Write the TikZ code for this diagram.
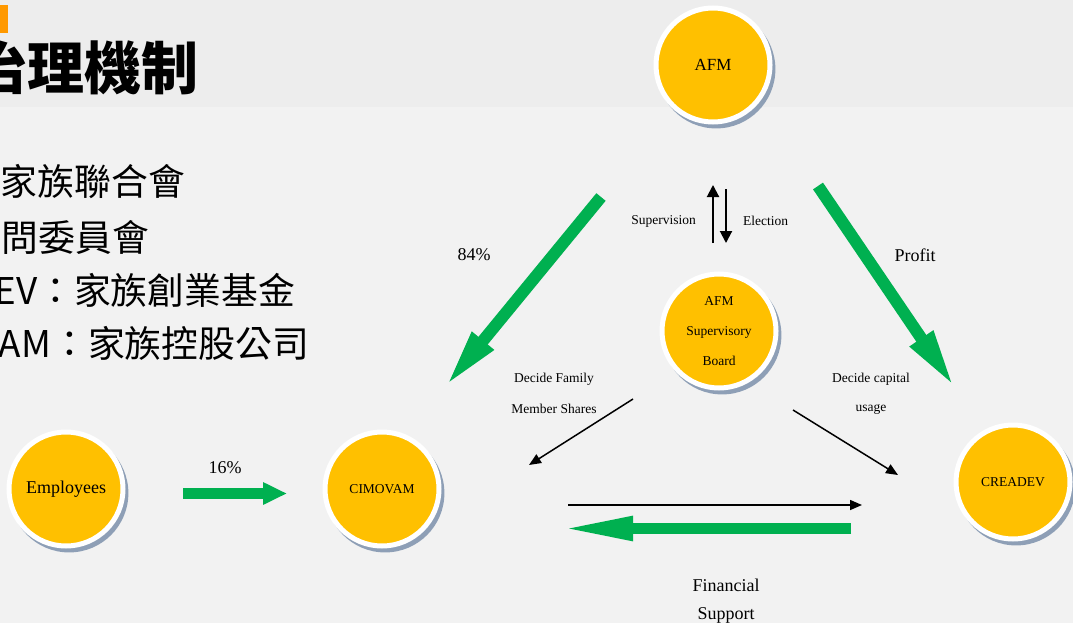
\documentclass[tikz,border=0pt]{standalone}
\usepackage{fontspec}
\setmainfont{Liberation Serif}
\newfontfamily\cjk{Noto Sans CJK TC}
\usepackage{xcolor}
\usetikzlibrary{shapes,arrows.meta,positioning,shadows}

\definecolor{slidegray}{HTML}{F2F2F2}
\definecolor{bandgray}{HTML}{EDEDED}
\definecolor{accent}{HTML}{FF9900}
\definecolor{gold}{HTML}{FFC000}
\definecolor{fatgreen}{HTML}{00B050}
\definecolor{rimblue}{HTML}{8497B0}

\tikzset{
  entity/.style={circle, fill=gold, draw=white, line width=5pt, minimum size=114pt, inner sep=0pt, text centered,
    drop shadow={shadow xshift=3pt, shadow yshift=-4pt, shadow scale=1.04, fill=rimblue, opacity=0.9}},
  pointer/.style={line width=1.5pt, -{Triangle[length=12pt,width=10pt]}},
  fat/.style 2 args={line width=12pt, draw=fatgreen, -{Triangle[length=#1,width=#2]}},
  lbl/.style={font=\fontsize{13.5}{16}\selectfont, inner sep=0pt},
  big/.style={font=\fontsize{18}{22}\selectfont, inner sep=0pt},
  listline/.style={font=\cjk\fontsize{36.8}{40}\selectfont, anchor=east, inner sep=0pt}
}

\begin{document}
\begin{tikzpicture}[x=1pt, y=-1pt]
\useasboundingbox (0,0) rectangle (1073,623);
\clip (0,0) rectangle (1073,623);

% slide background
\fill[slidegray] (0,0) rectangle (1073,623);
\fill[bandgray] (0,0) rectangle (1073,107);
\fill[accent] (0,5) rectangle (8,33);

\node(title)[font=\cjk\bfseries\fontsize{57}{60}\selectfont, anchor=east, inner sep=0pt] at (199,68){治理機制};

\node(afmline)[listline] at (185,182){家族聯合會};
\node(boardline)[listline] at (149,237){問委員會};
\node(creadevline)[listline] at (295,290){EV：家族創業基金};
\node(cimovamline)[listline] at (309,343){AM：家族控股公司};

% entities
\node(afm)[entity, font=\fontsize{17}{20}\selectfont] at (713,65){AFM};
\node(board)[entity, font=\fontsize{13.5}{30}\selectfont, align=center] at (719,331){AFM\\Supervisory\\Board};
\node(emp)[entity, font=\fontsize{18}{20}\selectfont] at (66,489){Employees};
\node(cimovam)[entity, font=\fontsize{13.5}{16}\selectfont] at (382,489){CIMOVAM};
\node(creadev)[entity, font=\fontsize{13.5}{16}\selectfont] at (1013,482){CREADEV};

% labels
\node(supervision)[lbl, anchor=east] at (696,221){Supervision};
\node(election)[lbl, anchor=west] at (743,221){Election};
\node(p84)[big] at (474,255){84\%};
\node(p16)[big] at (225,468){16\%};
\node(profit)[big] at (915,255){Profit};
\node(family)[lbl] at (554,379){Decide Family};
\node(shares)[lbl, below of=family, node distance=30pt]{Member Shares};
\node(capital)[lbl] at (871,379){Decide capital};
\node(usage)[lbl, below of=capital, node distance=30pt]{usage};
\node(financial)[big] at (726,585){Financial};
\node(support)[big, below of=financial, node distance=30pt]{Support};

% arrow ends
\coordinate(s84a) at (601,197); \coordinate(s84b) at (445,387);
\coordinate(profa) at (818,186); \coordinate(profb) at (955,388);
\coordinate(s16a) at (183,493.5); \coordinate(s16b) at (287,493.5);
\coordinate(funda) at (851,528.5); \coordinate(fundb) at (560,528.5);
\coordinate(upa) at (713,243); \coordinate(upb) at (713,185);
\coordinate(downa) at (726,189); \coordinate(downb) at (726,243);
\coordinate(fama) at (633,399); \coordinate(famb) at (529,465);
\coordinate(capa) at (793,410); \coordinate(capb) at (898,475);
\coordinate(suppa) at (568,505); \coordinate(suppb) at (862,505);

\draw[fat={60pt}{25pt}](s84a)--(s84b);
\draw[fat={60pt}{25pt}](profa)--(profb);
\draw[fat={24pt}{21pt}, line width=11pt](s16a)--(s16b);
\draw[fat={73pt}{22pt}, line width=11pt](funda)--(fundb);

\draw[pointer, line width=2pt, -{Triangle[length=12pt,width=12pt]}](upa)--(upb);
\draw[pointer, line width=2pt, -{Triangle[length=12pt,width=12pt]}](downa)--(downb);
\foreach \a/\b in {fama/famb, capa/capb, suppa/suppb}
	\draw[pointer](\a)--(\b);

\end{tikzpicture}
\end{document}
